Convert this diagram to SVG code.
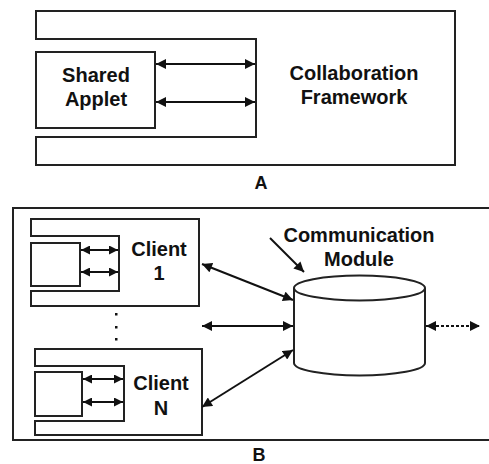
<svg xmlns="http://www.w3.org/2000/svg" width="489" height="464" viewBox="0 0 489 464">
<defs>
<marker id="ah" viewBox="0 0 10 10" refX="10" refY="5" markerWidth="11" markerHeight="10" markerUnits="userSpaceOnUse" orient="auto-start-reverse">
<path d="M0,0 L10,5 L0,10 z" fill="#111"/>
</marker>
<marker id="ahs" viewBox="0 0 10 10" refX="10" refY="5" markerWidth="9" markerHeight="9" markerUnits="userSpaceOnUse" orient="auto-start-reverse">
<path d="M0,0 L10,5 L0,10 z" fill="#111"/>
</marker>
</defs>
<style>
.fr{fill:#fff;stroke:#222;stroke-width:2}
.ln{fill:none;stroke:#111;stroke-width:2}
.t{font-family:"Liberation Sans",Arial,sans-serif;font-weight:bold;font-size:20px;fill:#111;text-anchor:middle}
.lb{font-family:"Liberation Sans",Arial,sans-serif;font-weight:bold;font-size:18px;fill:#111;text-anchor:middle}
</style>
<rect width="489" height="464" fill="#fff"/>
<g id="frameworkA">
<path class="fr" d="M36,11 H455 V165 H36 V137 H256 V39 H36 Z"/>
<text class="t" x="354" y="80">Collaboration</text>
<text class="t" x="354" y="104">Framework</text>
</g>
<g id="appletA">
<rect class="fr" x="36" y="52" width="119" height="76"/>
<text class="t" x="96" y="82">Shared</text>
<text class="t" x="96" y="106">Applet</text>
</g>
<text class="lb" x="261" y="189">A</text>
<g id="frameB">
<path class="fr" d="M490,208 H13 V440 H490" fill="none"/>
</g>
<g id="client1">
<path class="fr" d="M31,219 H199 V306 H31 V291 H119 V236 H31 Z"/>
<rect class="fr" x="31" y="243" width="49" height="43"/>
<text class="t" x="159" y="256">Client</text>
<text class="t" x="159" y="280">1</text>
</g>
<g id="clientN">
<path class="fr" d="M35,349 H202 V435 H35 V421 H124 V366 H35 Z"/>
<rect class="fr" x="35" y="372" width="47" height="44"/>
<text class="t" x="161" y="390">Client</text>
<text class="t" x="161" y="415">N</text>
</g>
<g id="dots" fill="#111">
<rect x="115" y="313" width="2.5" height="2.5"/>
<rect x="115" y="326" width="2.5" height="2.5"/>
<rect x="115" y="338" width="2.5" height="2.5"/>
</g>
<g id="commModule">
<path class="fr" d="M294,288 V363 A65.5,12.5 0 0 0 425,363 V288"/>
<ellipse class="fr" cx="359.5" cy="288" rx="65.5" ry="12.5"/>
<text class="t" x="359" y="242">Communication</text>
<text class="t" x="359" y="266">Module</text>
</g>
<text class="lb" x="259" y="461">B</text>
<g id="connectors">
<line class="ln" x1="156" y1="64" x2="255" y2="64" marker-start="url(#ah)" marker-end="url(#ah)"/>
<line class="ln" x1="156" y1="102" x2="255" y2="102" marker-start="url(#ah)" marker-end="url(#ah)"/>
<line class="ln" x1="81" y1="250" x2="118" y2="250" marker-start="url(#ahs)" marker-end="url(#ahs)"/>
<line class="ln" x1="81" y1="272" x2="118" y2="272" marker-start="url(#ahs)" marker-end="url(#ahs)"/>
<line class="ln" x1="83" y1="379" x2="123" y2="379" marker-start="url(#ahs)" marker-end="url(#ahs)"/>
<line class="ln" x1="83" y1="402" x2="123" y2="402" marker-start="url(#ahs)" marker-end="url(#ahs)"/>
<line class="ln" x1="202" y1="264" x2="293" y2="300" marker-start="url(#ah)" marker-end="url(#ah)"/>
<line class="ln" x1="202" y1="326" x2="293" y2="326" marker-start="url(#ah)" marker-end="url(#ah)"/>
<line class="ln" x1="202" y1="407" x2="293" y2="350" marker-start="url(#ah)" marker-end="url(#ah)"/>
<line class="ln" x1="426" y1="326" x2="480" y2="326" stroke-dasharray="3,2" marker-start="url(#ah)" marker-end="url(#ah)"/>
<line class="ln" x1="270" y1="238" x2="304" y2="272" marker-end="url(#ah)"/>
</g>
</svg>
